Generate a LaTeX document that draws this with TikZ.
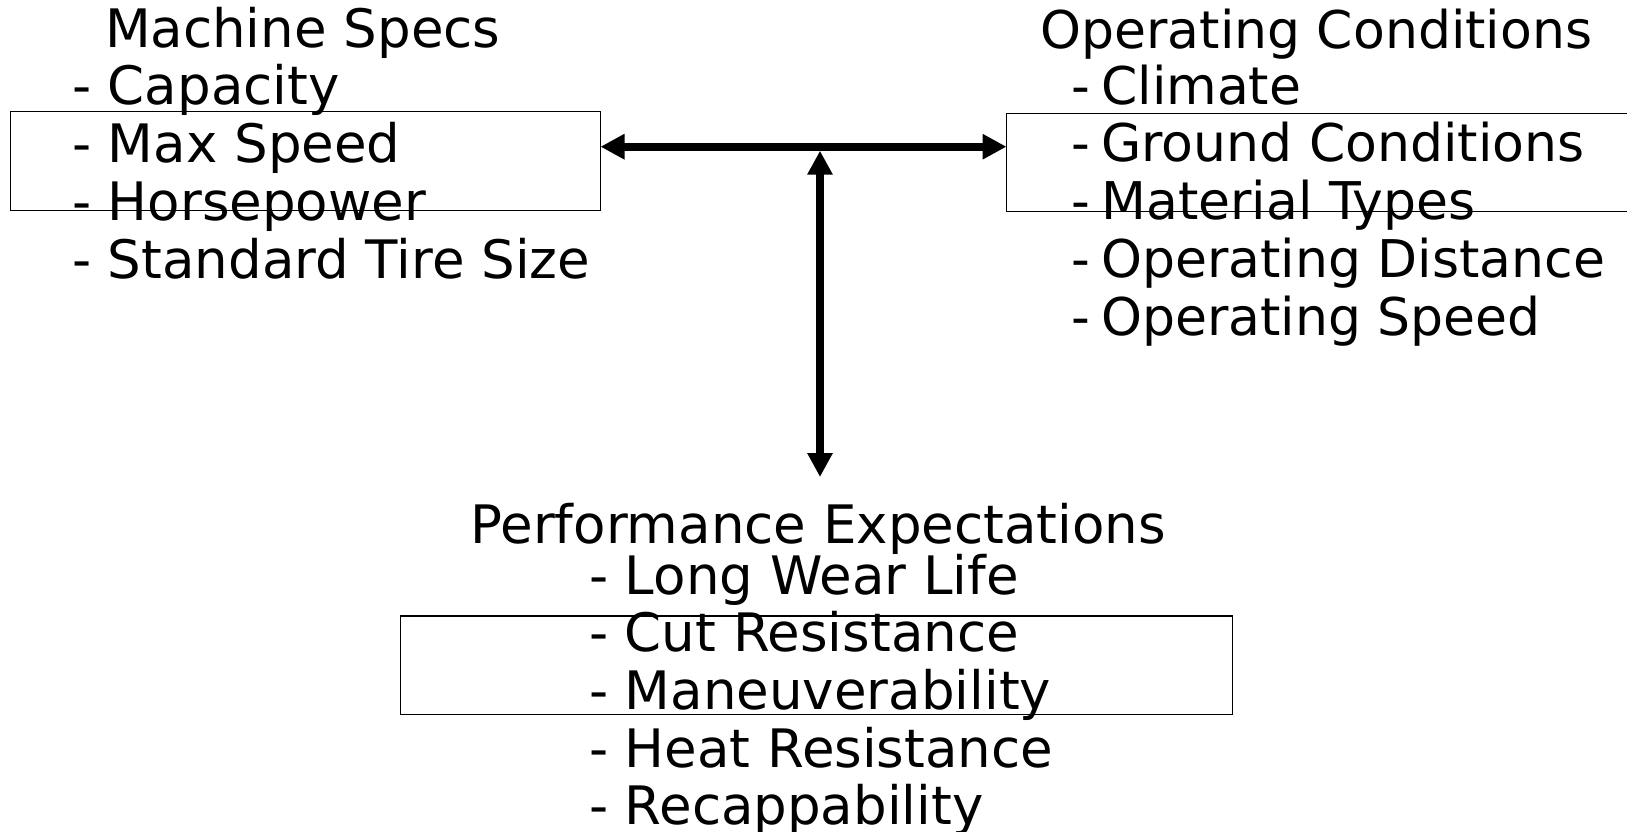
\documentclass[tikz,border=0pt]{standalone}
\usepackage{fontspec}
\setmainfont{DejaVu Sans}
\usetikzlibrary{arrows.meta}
\tikzset{
  txt/.style={anchor=base west, inner sep=0pt, outer sep=0pt, font=\fontsize{53pt}{58pt}\selectfont},
  txtr/.style={txt, font=\fontsize{52pt}{58pt}\selectfont},
  frame/.style={draw, line width=1.8pt, inner sep=0pt, outer sep=0pt},
  dbl/.style={line width=8pt, {Triangle[length=24pt,width=24pt]}-{Triangle[length=24pt,width=24pt]}}
}
\begin{document}
\begin{tikzpicture}[x=1pt,y=-1pt]
\useasboundingbox (0,0) rectangle (1627,831);
% left group
\node[txt] (ms0) at (105,47) {Machine Specs};
\node[txt] (ms1) at (72,104) {- Capacity};
\node[txt] (ms2) at (72,162.5) {- Max Speed};
\node[txt] (ms3) at (72,220) {- Horsepower};
\node[txt] (ms4) at (72,278.5) {- Standard Tire Size};
% right group
\node[txtr] (oc0) at (1040.5,48.5) {Operating Conditions};
\node[txtr] (oc1) at (1071.5,104) {-\kern11pt Climate};
\node[txtr] (oc2) at (1071.5,161.5) {-\kern11pt Ground Conditions};
\node[txtr] (oc3) at (1071.5,219) {-\kern11pt Material Types};
\node[txtr] (oc4) at (1071.5,277) {-\kern11pt Operating Distance};
\node[txtr] (oc5) at (1071.5,335) {-\kern11pt Operating Speed};
% bottom group
\node[txt] (pe0) at (470.5,543) {Performance Expectations};
\node[txt] (pe1) at (589,594) {- Long Wear Life};
\node[txt] (pe2) at (589,651) {- Cut Resistance};
\node[txt] (pe3) at (589,709) {- Maneuverability};
\node[txt] (pe4) at (589,767) {- Heat Resistance};
\node[txt] (pe5) at (589,824) {- Recappability};
% boxes
\node[frame, minimum width=590pt, minimum height=99pt] (lbox) at (305.5,161) {};
\node[frame, minimum width=643.5pt, minimum height=98pt] (rbox) at (1328.25,162.5) {};
\node[frame, minimum width=832pt, minimum height=98.5pt] (bbox) at (816.5,665.25) {};
% connectors
\coordinate (j) at (820,146.7);
\coordinate (vend) at (820,477);
\draw[dbl] (j -| lbox.east) -- (j -| rbox.west);
\draw[dbl, shorten <=4pt] (j) -- (vend);
\end{tikzpicture}
\end{document}
